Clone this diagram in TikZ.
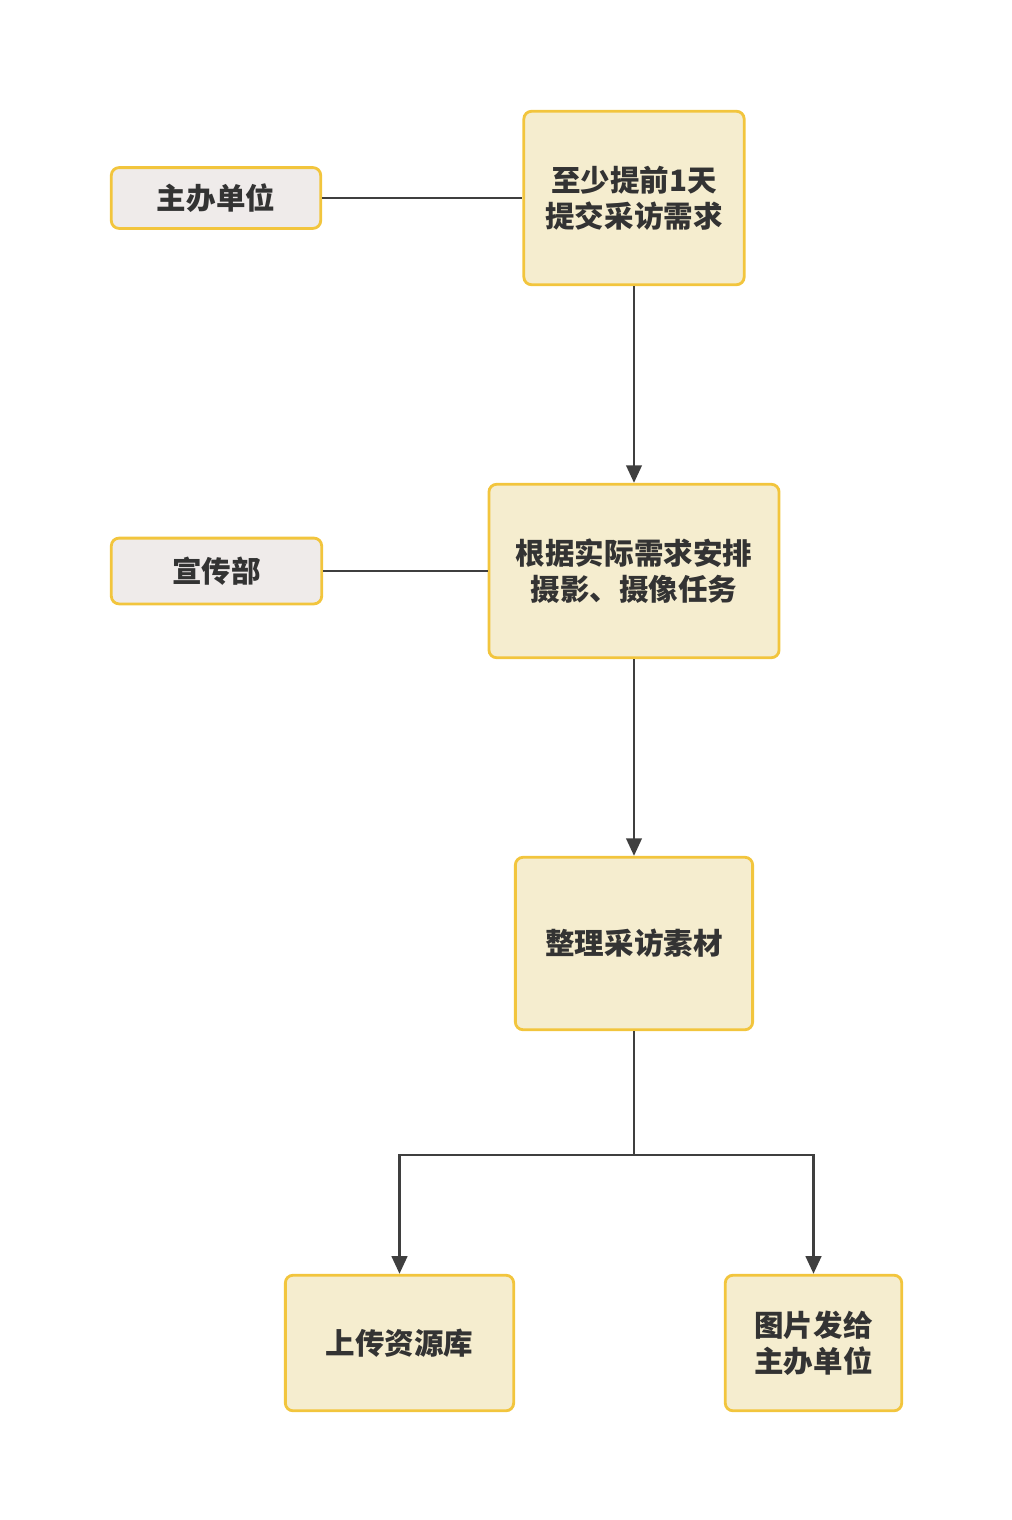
\documentclass[tikz,border=0pt]{standalone}
\usepackage{fontspec}
\setmainfont{Noto Sans CJK SC}
\usetikzlibrary{arrows.meta}
\definecolor{boxline}{HTML}{F2C53D}
\definecolor{boxfill}{HTML}{F5EDCF}
\definecolor{sidefill}{HTML}{EFEBEA}
\definecolor{linkcol}{HTML}{3F3F3F}
\begin{document}
\begin{tikzpicture}[x=0.025cm,y=-0.025cm,
	stepbox/.style={draw=boxline,line width=2pt,fill=boxfill,rounded corners=5.5pt,
		align=center,font=\bfseries\fontsize{21}{25.5}\selectfont,text=black!80,inner sep=0pt},
	sidebox/.style={stepbox,fill=sidefill},
	link/.style={draw=linkcol,line width=1.9pt},
	flow/.style={link,-{Triangle[length=12.5pt,width=11pt]}}]
		\useasboundingbox (0,0) rectangle (1012,1520);
		% side boxes
		\node[sidebox,minimum width=210*0.709pt,minimum height=61*0.709pt] (host) at (216,198) {主办单位};
		\node[sidebox,minimum width=211*0.709pt,minimum height=66*0.709pt] (pub) at (216.5,571) {宣传部};
		% main flow
		\node[stepbox,minimum width=221*0.709pt,minimum height=174*0.709pt] (req) at (634,198) {至少提前1天\\提交采访需求};
		\node[stepbox,minimum width=291*0.709pt,minimum height=174*0.709pt] (plan) at (634,571) {根据实际需求安排\\摄影、摄像任务};
		\node[stepbox,minimum width=238*0.709pt,minimum height=173*0.709pt] (sort) at (634,943.5) {整理采访素材};
		\node[stepbox,minimum width=229*0.709pt,minimum height=136*0.709pt] (lib) at (399.5,1343) {上传资源库};
		\node[stepbox,minimum width=177*0.709pt,minimum height=136*0.709pt] (send) at (813.5,1343) {图片发给\\主办单位};
		\coordinate (fork) at (634,1155);
		\draw[link] (host) -- (req);
		\draw[link] (pub) -- (plan);
		\draw[flow] (req) -- (plan);
		\draw[flow] (plan) -- (sort);
		\draw[link] (sort) -- (fork);
		\draw[flow] (fork) -| (lib);
		\draw[flow] (fork) -| (send);
	\end{tikzpicture}
\end{document}
